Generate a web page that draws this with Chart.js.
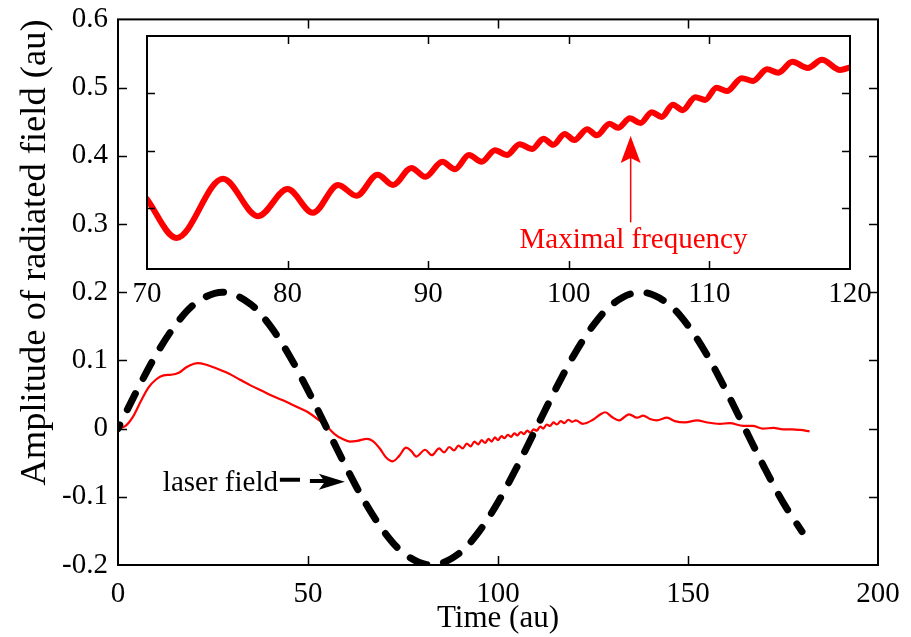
<!DOCTYPE html>
<html>
<head>
<meta charset="utf-8">
<script src="https://cdn.jsdelivr.net/npm/chart.js@4.4.0/dist/chart.umd.min.js"></script>
<style>
  body { margin: 0; background: #fff; }
  #wrap { position: relative; width: 911px; height: 637px; }
  #wrap canvas { position: absolute; left: 0; top: 0; }
</style>
</head>
<body>
<div id="wrap">
  <canvas id="main" width="911" height="637"></canvas>
  <canvas id="inset" width="911" height="637"></canvas>
</div>
<script>
// main axes
const xTicks = [0, 50, 100, 150, 200]
const yTicks = [-0.2, -0.1, 0, 0.1, 0.2, 0.3, 0.4, 0.5, 0.6]
const yTickLabels = ['-0.2', '-0.1', '0', '0.1', '0.2', '0.3', '0.4', '0.5', '0.6']

// laser field (dashed black)
const laserT = [0, 5, 10, 15, 20, 27.5, 35, 40, 45, 50, 55, 60, 65, 70, 75, 82.5, 90,
  95, 100, 105, 110, 115, 120, 125, 130, 137.5, 145, 150, 155, 160, 165, 170, 175, 180]
const laserV = [0, 0.056, 0.108, 0.151, 0.182, 0.200, 0.182, 0.151, 0.108, 0.056, 0,
  -0.056, -0.108, -0.151, -0.182, -0.200, -0.182, -0.151, -0.108, -0.056, 0,
  0.056, 0.108, 0.151, 0.182, 0.200, 0.182, 0.151, 0.108, 0.056, 0, -0.056, -0.108, -0.151]

// radiated field (thin red)
const radT = [0, 2, 4, 6, 8, 10, 12, 14, 16, 18, 20, 21, 23, 26, 29, 32, 35, 38, 41, 44, 47, 50,
  53, 55, 57, 59, 61, 63, 65.5, 67, 69, 70.5, 72.3, 74, 75.8, 77.2, 78.5, 80.8, 82.6, 84.5,
  85.8, 87.2, 88.4, 89.6, 90.7, 91.8, 92.8, 93.8, 94.8, 95.7, 96.6, 97.5, 98.3, 99.2, 100,
  100.9, 101.7, 102.6, 103.4, 104.3, 105.1, 106, 106.8, 107.7, 108.5, 109.4, 110.2, 111.1,
  111.9, 112.8, 113.7, 114.6, 115.5, 116.5, 117.5, 118.5, 119.5, 120.5, 122.3, 125, 127,
  128.2, 130, 131.8, 134.5, 136.6, 138.2, 140, 141.8, 144.5, 146.5, 149.2, 152.4, 155,
  158.4, 161, 164.5, 167, 169.7, 172.5, 175, 177.5, 179.5, 182]
const radV = [0, 0.004, 0.018, 0.040, 0.060, 0.072, 0.078, 0.079, 0.082, 0.090, 0.095, 0.096,
  0.094, 0.088, 0.081, 0.072, 0.063, 0.055, 0.047, 0.040, 0.032, 0.024, 0.012, 0.003, -0.008,
  -0.015, -0.019, -0.018, -0.015, -0.018, -0.030, -0.042, -0.048, -0.040, -0.028, -0.033,
  -0.041, -0.031, -0.039, -0.029, -0.035, -0.027, -0.032, -0.025, -0.029, -0.022, -0.026,
  -0.019, -0.023, -0.017, -0.021, -0.015, -0.019, -0.013, -0.017, -0.011, -0.014, -0.009,
  -0.012, -0.007, -0.010, -0.005, -0.008, -0.003, -0.006, -0.001, -0.003, 0.003, 0.000,
  0.006, 0.004, 0.009, 0.006, 0.011, 0.008, 0.013, 0.010, 0.012, 0.007, 0.013, 0.021,
  0.024, 0.017, 0.012, 0.021, 0.016, 0.019, 0.014, 0.012, 0.016, 0.011, 0.009, 0.012,
  0.009, 0.007, 0.008, 0.004, 0.004, 0.000, 0.001, -0.001, -0.001, -0.002, -0.004]

// inset
const insetXTicks = [70, 80, 90, 100, 110, 120]
const insetYTicks = [0.322, 0.406, 0.491]
const freqT = [70, 72.1, 75.4, 77.9, 80.0, 81.8, 83.6, 84.9, 86.4, 87.5, 88.8, 89.8, 91.0, 91.9,
  92.9, 93.8, 94.75, 95.6, 96.5, 97.4, 98.2, 98.9, 99.7, 100.4, 101.3, 102.0, 102.9, 103.5,
  104.35, 105.1, 105.9, 106.6, 107.4, 108.1, 109.0, 109.7, 110.5, 111.25, 112.3, 113.1,
  114.1, 114.9, 115.9, 117.0, 118.0, 119.3, 120.0]
const freqV = [0.335, 0.278, 0.365, 0.310, 0.350, 0.315, 0.356, 0.340, 0.371, 0.356, 0.381,
  0.368, 0.390, 0.379, 0.400, 0.390, 0.407, 0.400, 0.416, 0.409, 0.424, 0.415, 0.431, 0.422,
  0.438, 0.429, 0.446, 0.440, 0.454, 0.447, 0.463, 0.456, 0.474, 0.466, 0.485, 0.481, 0.499,
  0.494, 0.513, 0.509, 0.526, 0.521, 0.537, 0.528, 0.540, 0.525, 0.529]

const serif = "'Liberation Serif', 'Times New Roman', serif"
Chart.defaults.font.family = serif
Chart.defaults.color = '#000'

function pts(ts, vs) {
  return ts.map((t, i) => ({ x: t, y: vs[i] }))
}

// box round the plot area with ticks pointing in
const framePlugin = {
  id: 'frame',
  afterDatasetsDraw(chart, args, opts) {
    const { ctx, chartArea: a, scales } = chart
    ctx.save()
    ctx.strokeStyle = '#000'
    ctx.lineWidth = opts.width
    ctx.strokeRect(a.left, a.top, a.right - a.left, a.bottom - a.top)
    ctx.beginPath()
    opts.xTicks.forEach(v => {
      const px = Math.round(scales.x.getPixelForValue(v)) + 0.5
      ctx.moveTo(px, a.bottom); ctx.lineTo(px, a.bottom - opts.len)
      ctx.moveTo(px, a.top); ctx.lineTo(px, a.top + opts.len)
    })
    opts.yTicks.forEach(v => {
      const py = Math.round(scales.y.getPixelForValue(v)) + 0.5
      ctx.moveTo(a.left, py); ctx.lineTo(a.left + opts.len, py)
      ctx.moveTo(a.right, py); ctx.lineTo(a.right - opts.len, py)
    })
    ctx.lineWidth = 1.5
    ctx.stroke()
    ctx.restore()
  }
}

// texts and arrows
const notesPlugin = {
  id: 'notes',
  afterDatasetsDraw(chart, args, opts) {
    const { ctx, scales } = chart
    const X = v => scales.x.getPixelForValue(v)
    const Y = v => scales.y.getPixelForValue(v)
    ctx.save()
    if (opts.kind === 'laser') {
      ctx.font = '29px ' + serif
      ctx.fillStyle = '#000'
      ctx.textBaseline = 'middle'
      ctx.fillText('laser field', X(11.8), Y(-0.081))
      ctx.strokeStyle = '#000'
      ctx.lineWidth = 4
      ctx.beginPath()
      ctx.moveTo(X(42.6), Y(-0.075)); ctx.lineTo(X(47.9), Y(-0.075))
      ctx.moveTo(X(50.5), Y(-0.077)); ctx.lineTo(X(55.5), Y(-0.077))
      ctx.stroke()
      const tx = X(59.7), ty = Y(-0.078)
      ctx.beginPath()
      ctx.moveTo(tx, ty)
      ctx.lineTo(tx - 26, ty - 8)
      ctx.lineTo(tx - 20, ty)
      ctx.lineTo(tx - 26, ty + 8)
      ctx.closePath()
      ctx.fill()
    } else {
      ctx.font = '29px ' + serif
      ctx.fillStyle = '#ff0000'
      ctx.textAlign = 'center'
      ctx.textBaseline = 'middle'
      ctx.fillText('Maximal frequency', X(104.6), Y(0.275))
      const tx = X(104.4), ty = Y(0.428)
      ctx.strokeStyle = '#ff0000'
      ctx.lineWidth = 1.5
      ctx.beginPath()
      ctx.moveTo(tx, ty + 10); ctx.lineTo(tx, Y(0.301))
      ctx.stroke()
      ctx.beginPath()
      ctx.moveTo(tx, ty)
      ctx.lineTo(tx - 10, ty + 27)
      ctx.lineTo(tx, ty + 22)
      ctx.lineTo(tx + 10, ty + 27)
      ctx.closePath()
      ctx.fill()
    }
    ctx.restore()
  }
}

new Chart(document.getElementById('main'), {
  type: 'line',
  data: {
    datasets: [
      {
        label: 'laser field',
        data: pts(laserT, laserV),
        borderColor: '#000',
        borderWidth: 7,
        borderDash: [18, 17],
        borderDashOffset: 14,
        borderCapStyle: 'round',
        cubicInterpolationMode: 'monotone',
        pointRadius: 0,
        order: 0
      },
      {
        label: 'radiated field',
        data: pts(radT, radV),
        borderColor: '#ff0000',
        borderWidth: 2.2,
        cubicInterpolationMode: 'monotone',
        pointRadius: 0,
        order: 1
      }
    ]
  },
  options: {
    responsive: false,
    animation: false,
    devicePixelRatio: 1,
    layout: { padding: { left: 0, top: 19, right: 33, bottom: 0 } },
    plugins: {
      legend: { display: false },
      tooltip: { enabled: false },
      frame: { width: 2, len: 9, xTicks: [50, 100, 150], yTicks: yTicks.slice(1, -1) },
      notes: { kind: 'laser' }
    },
    scales: {
      x: {
        type: 'linear', min: 0, max: 200,
        afterBuildTicks: s => { s.ticks = xTicks.map(v => ({ value: v })) },
        afterFit: s => { s.height = 72 },
        grid: { display: false }, border: { display: false },
        ticks: { font: { size: 29 }, padding: 4, maxRotation: 0, autoSkip: false, callback: v => String(v) },
        title: { display: true, text: 'Time (au)', font: { size: 31 }, padding: { top: 0, bottom: 0 } }
      },
      y: {
        type: 'linear', min: -0.2, max: 0.6,
        afterBuildTicks: s => { s.ticks = yTicks.map(v => ({ value: v })) },
        afterFit: s => { s.width = 118 },
        grid: { display: false }, border: { display: false },
        ticks: { font: { size: 29 }, padding: 2, autoSkip: false, callback: (v, i) => yTickLabels[i] },
        title: { display: true, text: 'Amplitude of radiated field (au)', align: 'end', font: { size: 36.5 }, padding: { top: 14, bottom: 0 } }
      }
    }
  },
  plugins: [framePlugin, notesPlugin]
})

new Chart(document.getElementById('inset'), {
  type: 'line',
  data: {
    datasets: [{
      label: 'maximal frequency',
      data: pts(freqT, freqV),
      borderColor: '#ff0000',
      borderWidth: 6,
      borderCapStyle: 'round',
      borderJoinStyle: 'round',
      cubicInterpolationMode: 'monotone',
      pointRadius: 0
    }]
  },
  options: {
    responsive: false,
    animation: false,
    devicePixelRatio: 1,
    layout: { padding: { left: 147, top: 36, right: 61, bottom: 328 } },
    plugins: {
      legend: { display: false },
      tooltip: { enabled: false },
      frame: { width: 2, len: 8, xTicks: [80, 90, 100, 110], yTicks: insetYTicks },
      notes: { kind: 'freq' }
    },
    scales: {
      x: {
        type: 'linear', min: 70, max: 120,
        afterBuildTicks: s => { s.ticks = insetXTicks.map(v => ({ value: v })) },
        afterFit: s => { s.height = 40 },
        grid: { display: false }, border: { display: false },
        ticks: { font: { size: 29 }, padding: 0, maxRotation: 0, autoSkip: false, callback: v => String(v) }
      },
      y: { type: 'linear', display: false, min: 0.2324, max: 0.575 }
    }
  },
  plugins: [framePlugin, notesPlugin]
})
</script>
</body>
</html>
